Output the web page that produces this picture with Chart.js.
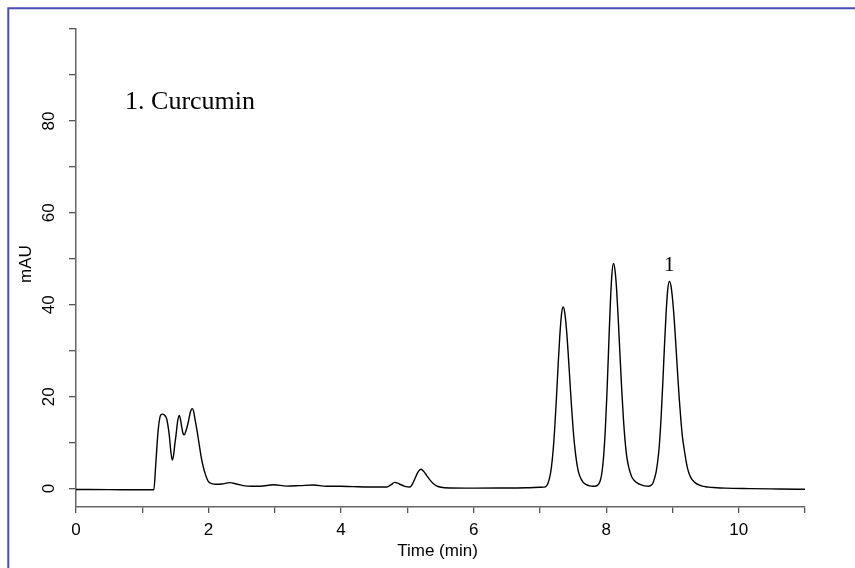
<!DOCTYPE html>
<html>
<head>
<meta charset="utf-8">
<script src="https://cdn.jsdelivr.net/npm/chart.js@4"></script>
<style>
html,body{margin:0;padding:0;background:#fff;overflow:hidden;}
#wrap{position:relative;width:855px;height:568px;}
</style>
</head>
<body>
<div id="wrap"><canvas id="c" width="855" height="568"></canvas></div>
<script>
// ---- data ----
const times = [
  0, 0.5, 1.0, 1.15, 1.175, 1.20, 1.225, 1.242, 1.268, 1.30, 1.335, 1.368, 1.39, 1.408, 1.43, 1.453,
  1.475, 1.49, 1.509, 1.535, 1.559, 1.58, 1.595, 1.615, 1.634, 1.66, 1.695, 1.725, 1.755, 1.775, 1.795,
  1.83, 1.861, 1.89, 1.921, 1.95, 1.975, 2.0, 2.05, 2.1, 2.2, 2.32, 2.42, 2.52, 2.65, 2.78, 2.98, 3.18,
  3.38, 3.58, 3.78, 3.98, 4.18, 4.44, 4.69, 4.75, 4.81, 4.88, 4.96, 5.04, 5.08, 5.115, 5.16, 5.206, 5.25,
  5.29, 5.34, 5.39, 5.44, 5.49, 5.64, 6.0, 6.4, 6.8, 7.0,
  7.05, 7.08, 7.10, 7.125, 7.15, 7.175, 7.20, 7.225, 7.25, 7.275, 7.30, 7.325, 7.35,
  7.375, 7.40, 7.425, 7.45, 7.475, 7.50, 7.525, 7.55, 7.575, 7.60, 7.65, 7.70, 7.75, 7.80,
  7.83, 7.86, 7.885, 7.91, 7.935, 7.96, 7.985, 8.01, 8.035, 8.06, 8.085, 8.11,
  8.135, 8.16, 8.185, 8.21, 8.235, 8.26, 8.285, 8.31, 8.335, 8.36, 8.385, 8.41, 8.435, 8.46, 8.52, 8.58, 8.64,
  8.675, 8.703, 8.728, 8.753, 8.778, 8.803, 8.828, 8.853, 8.878, 8.903, 8.928, 8.953,
  8.978, 9.003, 9.028, 9.053, 9.078, 9.103, 9.128, 9.153, 9.178, 9.203, 9.228, 9.253, 9.278,
  9.30, 9.35, 9.40, 9.45, 9.50, 9.55, 9.62, 9.80, 10.17, 10.6, 11.0
];
const mAU = [
  -0.2, -0.22, -0.25, -0.25, -0.2, 4.5, 10, 13.0, 15.6, 16.2, 16.0, 15.2, 13.5, 11.6, 8.2, 6.2,
  7.5, 9.5, 11.6, 14.8, 15.9, 14.8, 13.4, 12.0, 11.7, 12.6, 14.5, 16.6, 17.4, 16.8, 15.2,
  12.3, 9.4, 6.8, 4.7, 3.2, 2.2, 1.5, 1.1, 0.95, 1.0, 1.3, 1.0, 0.65, 0.5, 0.5, 0.85, 0.55,
  0.65, 0.78, 0.5, 0.5, 0.43, 0.36, 0.36, 0.8, 1.35, 1.0, 0.5, 0.35, 1.1, 2.2, 3.6, 4.2, 3.7,
  2.9, 1.9, 1.1, 0.6, 0.35, 0.13, 0.1, 0.13, 0.2, 0.3,
  0.32, 0.38, 0.6, 1.3, 2.6, 4.8, 8.4, 13.5, 19.9, 26.9, 33.2, 37.8, 39.5,
  38.3, 34.8, 29.8, 24.0, 18.3, 13.2, 9.2, 6.2, 4.1, 2.8, 1.4, 0.85, 0.6, 0.5,
  0.52, 0.65, 0.95, 1.7, 3.4, 6.8, 12.3, 20.2, 29.8, 39.3, 46.4, 49.0,
  47.3, 42.7, 36.0, 28.6, 21.4, 15.2, 10.4, 7.0, 5.0, 3.6, 2.6, 2.0, 1.6, 1.3, 0.85, 0.6, 0.52,
  0.7, 1.1, 2.2, 3.6, 6.0, 9.6, 15.3, 22.6, 30.6, 37.9, 43.2, 45.1,
  44.1, 41.0, 36.5, 30.9, 25.0, 19.5, 14.8, 11.0, 8.5, 6.2, 4.4, 3.2, 2.4,
  1.9, 1.2, 0.8, 0.55, 0.42, 0.33, 0.25, 0.1, 0.0, -0.08, -0.15
];
const xTickLabels = [0, 2, 4, 6, 8, 10];
const yTickValues = [0, 10, 20, 30, 40, 50, 60, 70, 80, 90, 100];
const yTickLabels = [0, 20, 40, 60, 80];
const titleText = "1. Curcumin";
const peakLabel = "1";
const peakLabelTime = 8.953;
const xTitle = "Time (min)";
const yTitle = "mAU";

const SANS = "'Liberation Sans', Arial, sans-serif";
const SERIF = "'Liberation Serif', 'Times New Roman', serif";

const decor = {
  id: 'decor',
  beforeDraw(chart) {
    const ctx = chart.ctx;
    ctx.save();
    ctx.fillStyle = '#fff';
    ctx.fillRect(0, 0, chart.width, chart.height);
    ctx.strokeStyle = '#4b4bb4';
    ctx.lineWidth = 2;
    ctx.beginPath();
    ctx.moveTo(8.3, chart.height);
    ctx.lineTo(8.3, 8.3);
    ctx.lineTo(chart.width, 8.3);
    ctx.stroke();
    ctx.restore();
  },
  afterDraw(chart) {
    const ctx = chart.ctx;
    const xs = chart.scales.x, ys = chart.scales.y;
    ctx.save();
    ctx.fillStyle = '#000';
    // y tick labels (rotated)
    ctx.font = '17px ' + SANS;
    ctx.textAlign = 'center';
    ctx.textBaseline = 'middle';
    yTickLabels.forEach(v => {
      const py = ys.getPixelForValue(v);
      ctx.save();
      ctx.translate(48, py);
      ctx.rotate(-Math.PI / 2);
      ctx.fillText(String(v), 0, 1);
      ctx.restore();
    });
    // y title
    ctx.save();
    ctx.translate(26, 264);
    ctx.rotate(-Math.PI / 2);
    ctx.fillText(yTitle, 0, 0);
    ctx.restore();
    // x title
    ctx.fillText(xTitle, (xs.left + xs.right) / 2 - 3, 551);
    // annotation text
    ctx.font = '26px ' + SERIF;
    ctx.textAlign = 'left';
    ctx.textBaseline = 'alphabetic';
    ctx.fillText(titleText, xs.getPixelForValue(0.74), ys.getPixelForValue(82.7));
    ctx.font = '21px ' + SERIF;
    ctx.textAlign = 'center';
    ctx.fillText(peakLabel, xs.getPixelForValue(peakLabelTime), ys.getPixelForValue(47.3));
    ctx.restore();
  }
};

new Chart(document.getElementById('c'), {
  type: 'line',
  data: {
    datasets: [{
      data: times.map((t, i) => ({ x: t, y: mAU[i] })),
      borderColor: '#000',
      borderWidth: 1.4,
      pointRadius: 0,
      fill: false,
      cubicInterpolationMode: 'monotone'
    }]
  },
  options: {
    responsive: false,
    devicePixelRatio: 1,
    animation: false,
    events: [],
    layout: { padding: { left: 0, top: 29, right: 50, bottom: 0 } },
    plugins: { legend: { display: false }, tooltip: { enabled: false } },
    scales: {
      x: {
        type: 'linear',
        min: 0, max: 11,
        border: { display: true, color: '#666', width: 1.5 },
        grid: { display: true, drawOnChartArea: false, drawTicks: true, tickLength: 6, color: '#555', lineWidth: 1.3 },
        ticks: {
          stepSize: 1,
          padding: 7,
          color: '#000',
          font: { size: 17, family: SANS },
          maxRotation: 0, minRotation: 0,
          autoSkip: false,
          callback: v => (xTickLabels.includes(v) ? String(v) : '')
        },
        afterFit: s => { s.height = 61; }
      },
      y: {
        type: 'linear',
        min: -4, max: 100,
        border: { display: true, color: '#666', width: 1.5 },
        grid: { display: true, drawOnChartArea: false, drawTicks: true, tickLength: 7, color: '#555', lineWidth: 1.3 },
        ticks: { display: false },
        afterBuildTicks: s => { s.ticks = yTickValues.map(v => ({ value: v })); },
        afterFit: s => { s.width = 76; }
      }
    }
  },
  plugins: [decor]
});
</script>
</body>
</html>
